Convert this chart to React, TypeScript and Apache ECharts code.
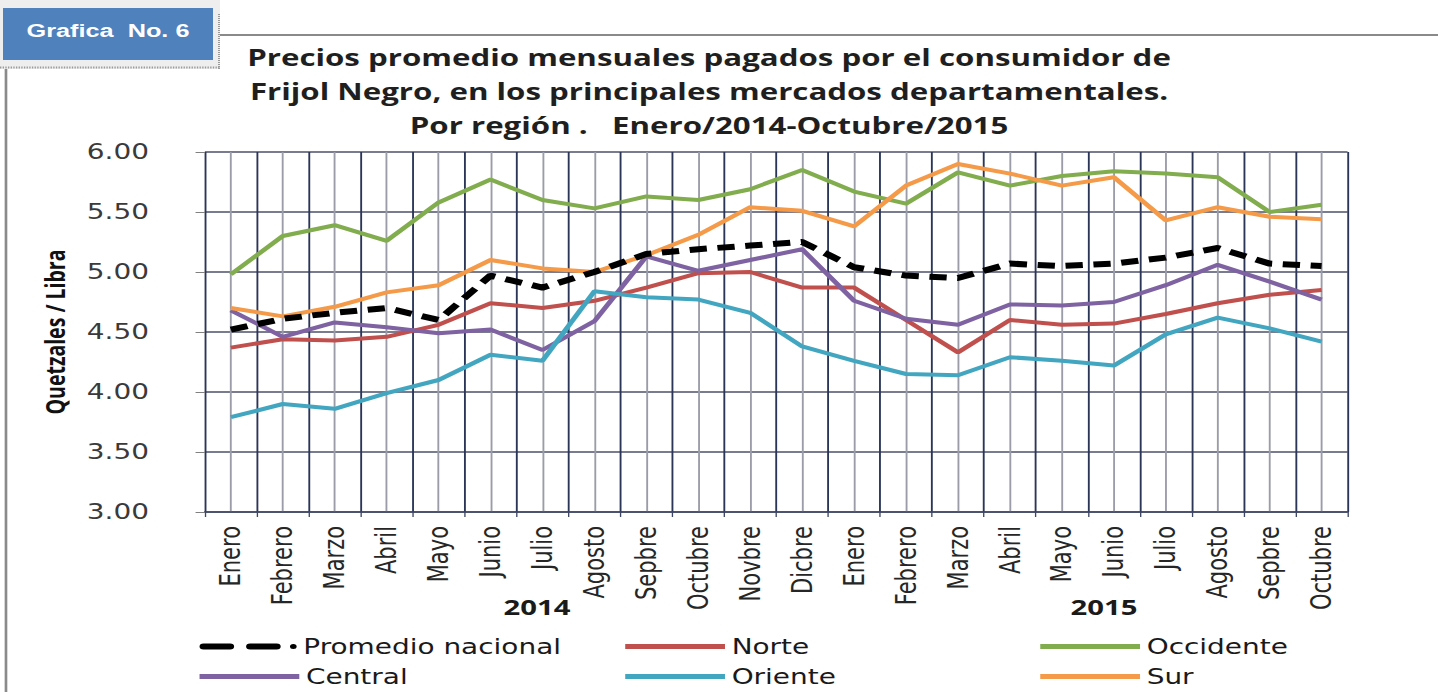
import React, { useEffect, useRef } from "react";
import * as echarts from "echarts";

// ---------- data ----------
const months = [
  "Enero", "Febrero", "Marzo", "Abril", "Mayo", "Junio", "Julio", "Agosto", "Sepbre", "Octubre", "Novbre", "Dicbre",
  "Enero", "Febrero", "Marzo", "Abril", "Mayo", "Junio", "Julio", "Agosto", "Sepbre", "Octubre",
];
const years = ["2014", "2015"];
const yTicks = { min: 3, max: 6, step: 0.5 };

const promedio = [4.52, 4.61, 4.66, 4.7, 4.6, 4.97, 4.87, 5.0, 5.15, 5.19, 5.22, 5.25, 5.04, 4.97, 4.95, 5.07, 5.05, 5.07, 5.12, 5.2, 5.07, 5.05];
const norte = [4.37, 4.44, 4.43, 4.46, 4.56, 4.74, 4.7, 4.76, 4.87, 4.99, 5.0, 4.87, 4.87, 4.6, 4.33, 4.6, 4.56, 4.57, 4.65, 4.74, 4.81, 4.85];
const occidente = [4.98, 5.3, 5.39, 5.26, 5.58, 5.77, 5.6, 5.53, 5.63, 5.6, 5.69, 5.85, 5.67, 5.57, 5.83, 5.72, 5.8, 5.84, 5.82, 5.79, 5.5, 5.56];
const central = [4.68, 4.46, 4.58, 4.54, 4.49, 4.52, 4.35, 4.59, 5.13, 5.01, 5.1, 5.19, 4.76, 4.61, 4.56, 4.73, 4.72, 4.75, 4.89, 5.06, 4.92, 4.77];
const oriente = [3.79, 3.9, 3.86, 3.99, 4.1, 4.31, 4.26, 4.84, 4.79, 4.77, 4.66, 4.38, 4.26, 4.15, 4.14, 4.29, 4.26, 4.22, 4.48, 4.62, 4.53, 4.42];
const sur = [4.7, 4.63, 4.71, 4.83, 4.89, 5.1, 5.03, 5.0, 5.14, 5.31, 5.54, 5.51, 5.38, 5.72, 5.9, 5.82, 5.72, 5.79, 5.43, 5.54, 5.46, 5.44];

const seriesNames = ["Promedio nacional", "Norte", "Occidente", "Central", "Oriente", "Sur"];
const seriesColors = ["#000000", "#c0504d", "#82ad4e", "#7e62a1", "#43a6c0", "#f49a48"];

// ---------- layout (chart drawn narrow, then stretched horizontally) ----------
const W = 1081;
const H = 692;
const S = 1438 / W;

const dashIcon =
  "path://M3,0h20a3,3 0 0 1 0,6h-20a3,3 0 0 1 0,-6z M38,0h20a3,3 0 0 1 0,6h-20a3,3 0 0 1 0,-6z M70.5,0.5a2.5,2.5 0 1 1 0,5a2.5,2.5 0 1 1 0,-5z";

export default function App() {
  const ref = useRef<HTMLDivElement>(null);

  useEffect(() => {
    if (!ref.current) return;
    const chart = echarts.init(ref.current, null, { renderer: "svg" });

    const values = [promedio, norte, occidente, central, oriente, sur];
    const series = values.map((d, i) => ({
      name: seriesNames[i],
      type: "line",
      data: d,
      xAxisIndex: 0,
      yAxisIndex: 0,
      symbol: "none",
      showSymbol: false,
      z: i === 0 ? 10 : 5,
      lineStyle:
        i === 0
          ? { color: seriesColors[i], width: 6, type: [13, 8] }
          : { color: seriesColors[i], width: 4 },
      itemStyle: { color: seriesColors[i] },
    }));

    const legendPos = [
      [150, 636],
      [470, 636],
      [782, 636],
      [150, 666],
      [470, 666],
      [782, 666],
    ];
    const legends = seriesNames.map((n, i) => ({
      show: true,
      left: legendPos[i][0],
      top: legendPos[i][1],
      selectedMode: false,
      itemWidth: i === 0 ? 73 : 75,
      itemHeight: i === 0 ? 6 : 5,
      symbolKeepAspect: false,
      padding: 0,
      data: [{ name: n, icon: i === 0 ? dashIcon : "rect" }],
      itemStyle: { color: seriesColors[i], borderWidth: 0 },
      textStyle: { fontFamily: "DejaVu Sans", fontSize: 21, color: "#1a1a1a" },
    }));

    const cx = (x: number) => x / S;

    chart.setOption({
      animation: false,
      backgroundColor: "#ffffff",
      grid: { left: 154, right: 68, top: 152, bottom: 180, containLabel: false },
      legend: legends,
      xAxis: [
        {
          type: "category",
          data: months,
          boundaryGap: true,
          axisLine: { show: true, lineStyle: { color: "#3d4663", width: 1.5 } },
          axisTick: { show: true, length: 5, lineStyle: { color: "#3d4663", width: 1 } },
          axisLabel: {
            interval: 0,
            rotate: 90,
            margin: 14,
            fontFamily: "DejaVu Sans",
            fontSize: 21,
            color: "#262626",
          },
          splitLine: { show: false },
        },
        {
          type: "value",
          min: 0,
          max: months.length * 2,
          interval: 1,
          position: "top",
          axisLine: { show: false },
          axisTick: { show: false },
          axisLabel: { show: false },
          splitLine: { show: true, lineStyle: { color: ["#2a3558", "#9a9ca8"], width: 1.4 } },
        },
      ],
      yAxis: {
        type: "value",
        min: yTicks.min,
        max: yTicks.max,
        interval: yTicks.step,
        axisLine: { show: false },
        axisTick: { show: true, length: 7, lineStyle: { color: "#808080" } },
        axisLabel: {
          margin: 42,
          fontFamily: "DejaVu Sans",
          fontSize: 21,
          color: "#3a3a3a",
          formatter: (v: number) => v.toFixed(2),
        },
        splitLine: { show: true, lineStyle: { color: "#4b5068", width: 1.5 } },
      },
      series,
      graphic: [
        // frame lines
        { type: "line", shape: { x1: cx(216), y1: 35, x2: W, y2: 35 }, style: { stroke: "#8a8a8a", lineWidth: 2 }, z: 1 },
        { type: "line", shape: { x1: 4.5, y1: 68, x2: 4.5, y2: H }, style: { stroke: "#8a8a8a", lineWidth: 2 }, z: 1 },
        // badge panel
        { type: "rect", shape: { x: 0, y: 0, width: cx(220), height: 69 }, style: { fill: "#eeeeee" }, z: 2 },
        { type: "line", shape: { x1: 0, y1: 67.5, x2: cx(220), y2: 67.5 }, style: { stroke: "#9a9a9a", lineWidth: 2, lineDash: [1, 1] }, z: 3 },
        { type: "line", shape: { x1: cx(219), y1: 14, x2: cx(219), y2: 69 }, style: { stroke: "#9a9a9a", lineWidth: 1.5, lineDash: [1, 1] }, z: 3 },
        { type: "rect", shape: { x: cx(3), y: 8, width: cx(210), height: 52 }, style: { fill: "#4f81bd" }, z: 4 },
        {
          type: "text",
          x: cx(108),
          y: 31,
          z: 5,
          style: {
            text: "Grafica  No. 6",
            fill: "#ffffff",
            fontFamily: "Liberation Sans",
            fontWeight: "bold",
            fontSize: 19,
            align: "center",
            verticalAlign: "middle",
          },
        },
        // title
        {
          type: "text",
          x: cx(709),
          y: 91,
          z: 5,
          style: {
            text:
              "Precios promedio mensuales pagados por el consumidor de\nFrijol Negro, en los principales mercados departamentales.\nPor región .   Enero/2014-Octubre/2015",
            fill: "#1f1f1f",
            fontFamily: "Open Sans",
            fontWeight: "bold",
            fontSize: 23.5,
            lineHeight: 34,
            align: "center",
            verticalAlign: "middle",
          },
        },
        // y axis title
        {
          type: "text",
          x: cx(55),
          y: 332,
          rotation: Math.PI / 2,
          z: 5,
          style: {
            text: "Quetzales / Libra",
            fill: "#111111",
            fontFamily: "Open Sans",
            fontWeight: "bold",
            fontSize: 19.5,
            align: "center",
            verticalAlign: "middle",
          },
        },
        // year labels
        {
          type: "text",
          x: cx(537),
          y: 607,
          z: 5,
          style: { text: years[0], fill: "#1a1a1a", fontFamily: "Open Sans", fontWeight: "bold", fontSize: 22, align: "center", verticalAlign: "middle" },
        },
        {
          type: "text",
          x: cx(1104),
          y: 607,
          z: 5,
          style: { text: years[1], fill: "#1a1a1a", fontFamily: "Open Sans", fontWeight: "bold", fontSize: 22, align: "center", verticalAlign: "middle" },
        },
      ],
    });

    return () => chart.dispose();
  }, []);

  return (
    <div
      style={{
        position: "absolute",
        left: 0,
        top: 0,
        width: W,
        height: H,
        transform: `scaleX(${S})`,
        transformOrigin: "0 0",
        background: "#ffffff",
      }}
    >
      <div ref={ref} style={{ width: W, height: H }} />
    </div>
  );
}
